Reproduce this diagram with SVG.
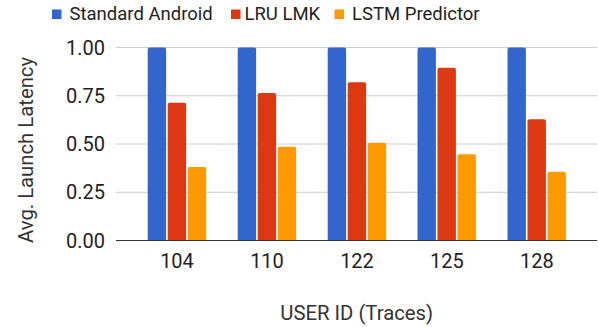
<svg xmlns="http://www.w3.org/2000/svg" width="598" height="327" viewBox="0 0 598 327">
<style>
text{font-family:Roboto,"Liberation Sans",sans-serif;fill:#222}
.tick{font-size:20px}
.ytick{text-anchor:end}
.xtick{text-anchor:middle}
.title{font-size:20.3px;fill:#333}
.leg{font-size:18.5px}
.grid{stroke:#ccc;stroke-width:1}
.base{stroke:#333;stroke-width:1}
.b{fill:#3366cc}.r{fill:#dc3912}.o{fill:#ff9900}
</style>
<rect width="598" height="327" fill="#fff"/>
<g id="legend">
<rect class="b" x="52" y="9.5" width="9.5" height="9.5"/>
<text class="leg" x="69.5" y="20">Standard Android</text>
<rect class="r" x="231" y="9.5" width="9.5" height="9.5"/>
<text class="leg" x="244.5" y="20">LRU LMK</text>
<rect class="o" x="334.5" y="9.5" width="9.5" height="9.5"/>
<text class="leg" x="352" y="20">LSTM Predictor</text>
</g>
<g id="grid">
<line class="grid" x1="116" y1="47.5" x2="597" y2="47.5"/>
<line class="grid" x1="116" y1="95.75" x2="597" y2="95.75"/>
<line class="grid" x1="116" y1="144" x2="597" y2="144"/>
<line class="grid" x1="116" y1="192.25" x2="597" y2="192.25"/>
</g>
<g id="yaxis">
<text class="tick ytick" x="105" y="54.6">1.00</text>
<text class="tick ytick" x="105" y="102.85">0.75</text>
<text class="tick ytick" x="105" y="151.1">0.50</text>
<text class="tick ytick" x="105" y="199.35">0.25</text>
<text class="tick ytick" x="105" y="247.6">0.00</text>
<text class="title" transform="translate(32.5,150) rotate(-90)" text-anchor="middle">Avg. Launch Latency</text>
</g>
<g id="bars">
<g id="g104">
<rect class="b" x="147.7" y="47.5" width="18.4" height="195" rx="2"/>
<rect class="r" x="167.7" y="102.7" width="18.4" height="140" rx="2"/>
<rect class="o" x="187.7" y="167" width="18.4" height="75" rx="2"/>
</g>
<g id="g110">
<rect class="b" x="237.7" y="47.5" width="18.4" height="195" rx="2"/>
<rect class="r" x="257.7" y="93" width="18.4" height="150" rx="2"/>
<rect class="o" x="277.7" y="146.7" width="18.4" height="95" rx="2"/>
</g>
<g id="g122">
<rect class="b" x="327.7" y="47.5" width="18.4" height="195" rx="2"/>
<rect class="r" x="347.7" y="82.3" width="18.4" height="160" rx="2"/>
<rect class="o" x="367.7" y="142.7" width="18.4" height="100" rx="2"/>
</g>
<g id="g125">
<rect class="b" x="417.5" y="47.5" width="18.4" height="195" rx="2"/>
<rect class="r" x="437.5" y="67.7" width="18.4" height="175" rx="2"/>
<rect class="o" x="457.5" y="154.3" width="18.4" height="88" rx="2"/>
</g>
<g id="g128">
<rect class="b" x="507.5" y="47.5" width="18.4" height="195" rx="2"/>
<rect class="r" x="527.5" y="119.3" width="18.4" height="123" rx="2"/>
<rect class="o" x="547.5" y="171.7" width="18.4" height="71" rx="2"/>
</g>
</g>
<rect x="110" y="240.8" width="488" height="10" fill="#fff"/>
<line class="base" x1="116" y1="240.5" x2="597" y2="240.5"/>
<g id="xaxis">
<text class="tick xtick" x="177" y="267.7">104</text>
<text class="tick xtick" x="267" y="267.7">110</text>
<text class="tick xtick" x="357" y="267.7">122</text>
<text class="tick xtick" x="446.8" y="267.7">125</text>
<text class="tick xtick" x="536.8" y="267.7">128</text>
<text class="title" x="356.7" y="320" text-anchor="middle">USER ID (Traces)</text>
</g>
</svg>
